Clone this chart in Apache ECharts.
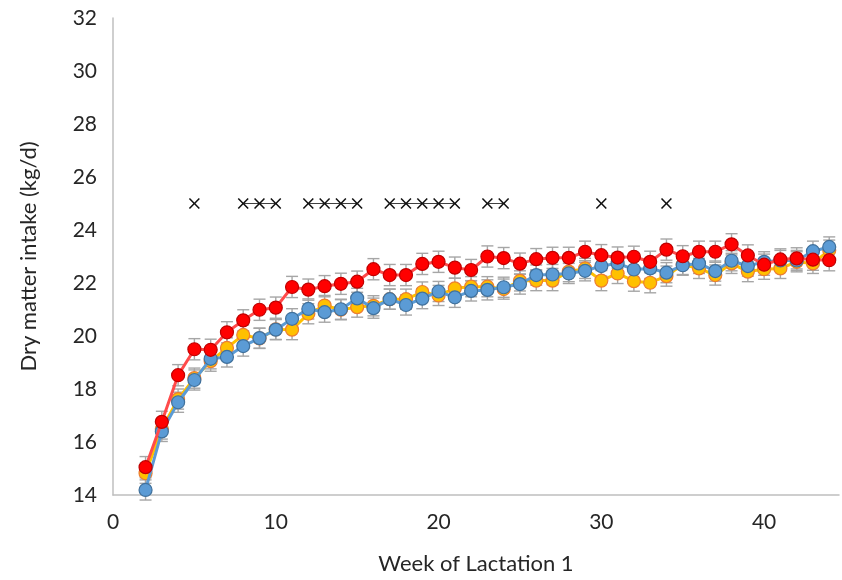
<!DOCTYPE html>
<html>
<head>
<meta charset="utf-8">
<script src="https://cdn.jsdelivr.net/npm/echarts@6/dist/echarts.min.js"></script>
<style>
  html, body { margin: 0; padding: 0; background: #fff; }
  #chart { width: 842px; height: 580px; }
</style>
</head>
<body>
<div id="chart"></div>
<script>
// weeks of lactation 1
const weeks = [2, 3, 4, 5, 6, 7, 8, 9, 10, 11, 12, 13, 14, 15, 16, 17, 18, 19, 20, 21, 22, 23,
    24, 25, 26, 27, 28, 29, 30, 31, 32, 33, 34, 35, 36, 37, 38, 39, 40, 41, 42, 43, 44];

const orangeValues = [14.82, 16.49, 17.62, 18.41, 19.05, 19.55, 20.04, 19.91, 20.25, 20.24, 20.84, 21.15, 20.99, 21.09, 21.14,
    21.39, 21.39, 21.66, 21.53, 21.8, 21.86, 21.86, 21.77, 22.08, 22.09, 22.09, 22.43, 22.55, 22.09, 22.36, 22.07,
    22.01, 22.26, 22.7, 22.55, 22.3, 22.74, 22.43, 22.52, 22.55, 22.8, 22.74, 23.24];
const blueValues = [14.19, 16.4, 17.5, 18.34, 19.14, 19.21, 19.62, 19.92, 20.24, 20.65, 21.02, 20.9, 21.01, 21.42, 21.05,
    21.39, 21.17, 21.41, 21.68, 21.46, 21.7, 21.74, 21.84, 21.96, 22.3, 22.32, 22.36, 22.46, 22.64, 22.74, 22.51,
    22.55, 22.39, 22.67, 22.74, 22.45, 22.84, 22.64, 22.8, 22.85, 22.85, 23.2, 23.36];
const redValues = [15.05, 16.76, 18.52, 19.5, 19.48, 20.14, 20.59, 20.99, 21.07, 21.85, 21.75, 21.88, 21.97, 22.05, 22.52,
    22.3, 22.3, 22.72, 22.8, 22.58, 22.49, 23.0, 22.94, 22.73, 22.9, 22.95, 22.95, 23.18, 23.05, 22.96, 22.99,
    22.8, 23.26, 23.01, 23.18, 23.18, 23.46, 23.04, 22.69, 22.89, 22.93, 22.88, 22.86];

// standard errors (approx.)
const orangeErr = 0.38;
const blueErr = 0.38;
const redErr = 0.4;

// weeks marked with × (significant difference)
const sigWeeks = [5, 8, 9, 10, 12, 13, 14, 15, 17, 18, 19, 20, 21, 23, 24, 30, 34];
const sigLevel = 25;

const xTicks = [0, 10, 20, 30, 40];
const yTicks = [14, 16, 18, 20, 22, 24, 26, 28, 30, 32];

const font = 'Lato, "Open Sans", sans-serif';

function pairs(vals) {
    return weeks.map((w, i) => [w, vals[i]]);
}

function errData(vals, e) {
    return weeks.map((w, i) => [w, vals[i], e]);
}

function errSeries(vals, e) {
    return {
        type: 'custom',
        z: 1,
        silent: true,
        data: errData(vals, e),
        renderItem: function (params, api) {
            const x = api.value(0);
            const y = api.value(1);
            const d = api.value(2);
            const top = api.coord([x, y + d]);
            const bot = api.coord([x, y - d]);
            const cap = 6;
            const style = {stroke: '#a6a6a6', lineWidth: 1.4};
            return {
                type: 'group',
                children: [
                    {type: 'line', shape: {x1: top[0], y1: top[1], x2: bot[0], y2: bot[1]}, style: style},
                    {type: 'line', shape: {x1: top[0] - cap, y1: top[1], x2: top[0] + cap, y2: top[1]}, style: style},
                    {type: 'line', shape: {x1: bot[0] - cap, y1: bot[1], x2: bot[0] + cap, y2: bot[1]}, style: style}
                ]
            };
        }
    };
}

function lineSeries(vals, lineColor, fill, border, z) {
    return {
        type: 'line',
        z: z,
        data: pairs(vals),
        symbol: 'circle',
        symbolSize: 13,
        lineStyle: {color: lineColor, width: 3},
        itemStyle: {color: fill, borderColor: border, borderWidth: 1.2},
        emphasis: {disabled: true},
        animation: false
    };
}

const sigData = weeks.map(w => [w, sigWeeks.indexOf(w) >= 0 ? sigLevel : null]);

const chart = echarts.init(document.getElementById('chart'));
chart.setOption({
    animation: false,
    grid: {left: 113, right: 0, top: 18, bottom: 82},
    xAxis: {
        type: 'value',
        min: 0,
        max: 44.6,
        interval: 10,
        name: 'Week of Lactation 1',
        nameLocation: 'middle',
        nameGap: 58,
        nameTextStyle: {fontFamily: font, fontSize: 22, color: '#262626'},
        axisLine: {lineStyle: {color: '#bfbfbf', width: 1.5}},
        axisTick: {show: false},
        splitLine: {show: false},
        axisLabel: {
            fontFamily: font, fontSize: 21, color: '#262626', margin: 17,
            formatter: v => xTicks.indexOf(v) >= 0 ? String(v) : ''
        }
    },
    yAxis: {
        type: 'value',
        min: 14,
        max: 32,
        interval: 2,
        name: 'Dry matter intake (kg/d)',
        nameLocation: 'middle',
        nameGap: 73,
        nameTextStyle: {fontFamily: font, fontSize: 22, color: '#262626'},
        axisLine: {show: true, lineStyle: {color: '#bfbfbf', width: 1.5}},
        axisTick: {show: false},
        splitLine: {show: false},
        axisLabel: {
            fontFamily: font, fontSize: 21, color: '#262626', margin: 16,
            formatter: v => yTicks.indexOf(v) >= 0 ? String(v) : ''
        }
    },
    series: [
        errSeries(orangeValues, orangeErr),
        errSeries(blueValues, blueErr),
        errSeries(redValues, redErr),
        lineSeries(orangeValues, '#ffc000', '#ffc000', '#ed7d31', 2),
        lineSeries(blueValues, '#5b9bd5', '#5b9bd5', '#41719c', 3),
        lineSeries(redValues, '#ff4b4b', '#ff0000', '#c00000', 4),
        {
            type: 'line',
            z: 5,
            data: sigData,
            connectNulls: false,
            symbol: 'path://M1,0 L5,4 L9,0 L10,1 L6,5 L10,9 L9,10 L5,6 L1,10 L0,9 L4,5 L0,1 Z',
            symbolSize: 11,
            lineStyle: {color: '#404040', width: 1},
            itemStyle: {color: '#111'},
            emphasis: {disabled: true}
        }
    ]
});
window.addEventListener('resize', function () {
    chart.resize();
});
</script>
</body>
</html>
